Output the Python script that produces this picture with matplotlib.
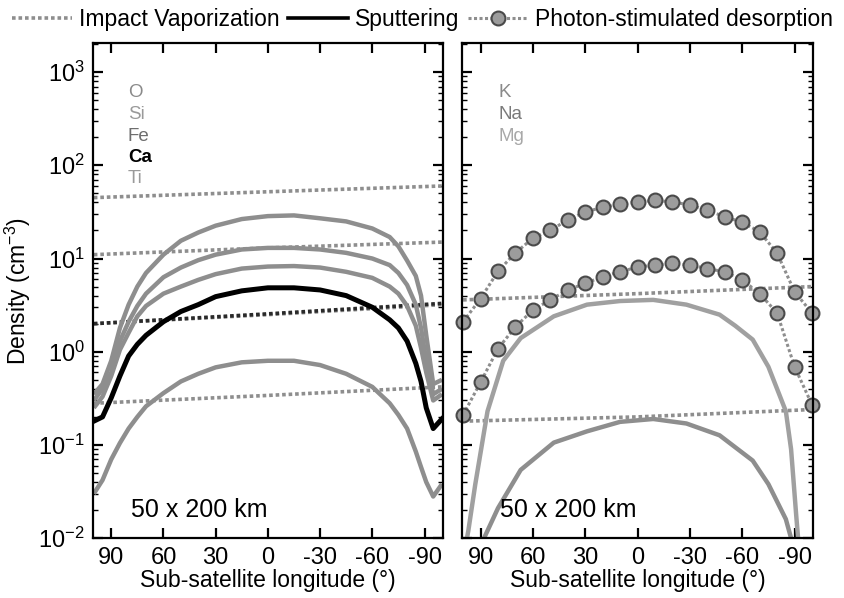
import matplotlib
matplotlib.use("Agg")
import matplotlib.pyplot as plt
from matplotlib.lines import Line2D
from matplotlib.ticker import LogLocator, NullFormatter

plt.rcParams['font.family'] = ['Liberation Sans', 'DejaVu Sans']
plt.rcParams['mathtext.fontset'] = 'custom'
plt.rcParams['mathtext.rm'] = 'Liberation Sans'
plt.rcParams['mathtext.it'] = 'Liberation Sans'
plt.rcParams['axes.unicode_minus'] = False

# ---- data ----
xticks = [90, 60, 30, 0, -30, -60, -90]
xtick_labels = ['90', '60', '30', '0', '-30', '-60', '-90']

# left panel: impact vaporization (O, Si, Fe, Ca, Ti)
iv_x = [100, 0, -100]
iv_O = [45, 52, 60]
iv_Si = [11, 13, 15]
iv_Fe = [2.0, 2.5, 3.2]
iv_Ca = [2.0, 2.55, 3.3]
iv_Ti = [0.28, 0.34, 0.42]

# left panel: sputtering
sp_x = [100, 95, 90, 85, 80, 75, 70, 60, 50, 40, 30, 15, 0, -15, -30, -45,
        -60, -70, -75, -80, -85, -88, -91, -95, -100]
sp_O = [0.35, 0.45, 0.8, 1.8, 3.2, 5.0, 7.0, 11, 15.5, 19, 22.5, 26.5, 28.5,
        29, 27, 25, 21, 17, 13.5, 9.5, 6.5, 4.0, 1.5, 0.45, 0.5]
sp_Si = [0.3, 0.4, 0.6, 1.3, 2.1, 3.1, 4.2, 6.3, 8.0, 9.6, 11, 12.5, 13,
         13, 12.5, 11.5, 10, 8.5, 7, 5.2, 3.2, 1.8, 0.8, 0.35, 0.4]
sp_Fe = [0.25, 0.33, 0.55, 1.05, 1.6, 2.4, 3.1, 4.2, 5.0, 5.9, 6.8, 7.8, 8.2,
         8.3, 8.0, 7.2, 6.2, 5.0, 4.2, 3.1, 1.9, 1.1, 0.6, 0.3, 0.35]
sp_Ca = [0.18, 0.2, 0.32, 0.55, 0.9, 1.2, 1.5, 2.1, 2.7, 3.2, 3.9, 4.5, 4.85,
         4.85, 4.6, 4.0, 3.0, 2.2, 1.8, 1.3, 0.75, 0.48, 0.25, 0.15, 0.19]
sp_Ti = [0.03, 0.042, 0.07, 0.105, 0.15, 0.2, 0.26, 0.36, 0.48, 0.58, 0.68,
         0.77, 0.8, 0.8, 0.72, 0.58, 0.42, 0.28, 0.21, 0.15, 0.085, 0.058,
         0.04, 0.028, 0.038]

# right panel: photon-stimulated desorption (markers every 10 deg)
psd_x = [100, 90, 80, 70, 60, 50, 40, 30, 20, 10, 0, -10, -20, -30, -40,
         -50, -60, -70, -80, -90, -100]
psd_hi = [2.1, 3.7, 7.3, 11.5, 16.5, 20, 26, 31.5, 35.5, 38, 40.5, 42, 40.5,
          37.5, 33, 28, 24.5, 19.3, 11.4, 4.4, 2.6]
psd_lo = [0.21, 0.47, 1.08, 1.85, 2.8, 3.6, 4.6, 5.4, 6.4, 7.2, 8.1, 8.5,
          8.85, 8.5, 7.8, 7.2, 5.9, 4.2, 2.6, 0.69, 0.27]

# right panel: impact vaporization
iv2_x = [100, 0, -100]
iv2_hi = [3.6, 4.2, 5.0]
iv2_lo = [0.18, 0.2, 0.24]

# right panel: sputtering
sp2_hi_x = [100, 97, 93, 86, 77, 67, 48, 29, 10, -9, -28, -47, -56, -66,
            -75, -85, -88, -91, -93]
sp2_hi = [0.006, 0.012, 0.038, 0.23, 0.8, 1.4, 2.4, 3.2, 3.5, 3.6, 3.2,
          2.5, 1.9, 1.35, 0.69, 0.23, 0.09, 0.017, 0.006]
sp2_lo_x = [91, 88, 80, 67, 48, 29, 10, -9, -28, -47, -66, -75, -85, -88,
            -90]
sp2_lo = [0.006, 0.01, 0.021, 0.054, 0.106, 0.14, 0.177, 0.19, 0.17, 0.127,
          0.068, 0.038, 0.016, 0.01, 0.006]

left_labels = ['O', 'Si', 'Fe', 'Ca', 'Ti']
left_label_colors = ['#8a8a8a', '#9a9a9a', '#6e6e6e', 'black', '#9a9a9a']
right_labels = ['K', 'Na', 'Mg']
right_label_colors = ['#8a8a8a', '#7a7a7a', '#a8a8a8']

GRAY = '#8e8e8e'
FS = 17

fig = plt.figure(figsize=(8.45, 5.98), dpi=100)
ax1 = fig.add_axes([0.110, 0.100, 0.414, 0.828])
ax2 = fig.add_axes([0.547, 0.100, 0.415, 0.828])

iv_kw = dict(linestyle=(0, (1, 0.8)), linewidth=2.6)
sp_kw = dict(linewidth=3.2, solid_capstyle='butt')

# left panel
for vals in [iv_O, iv_Si, iv_Fe, iv_Ti]:
    ax1.plot(iv_x, vals, color=GRAY, **iv_kw)
ax1.plot(iv_x, iv_Ca, color='#2a2a2a', **iv_kw)
for vals in [sp_O, sp_Si, sp_Fe, sp_Ti]:
    ax1.plot(sp_x, vals, color=GRAY, **sp_kw)
ax1.plot(sp_x, sp_Ca, color='black', linewidth=3.6)

# right panel
ax2.plot(iv2_x, iv2_hi, color=GRAY, **iv_kw)
ax2.plot(iv2_x, iv2_lo, color=GRAY, **iv_kw)
ax2.plot(sp2_hi_x, sp2_hi, color='#a0a0a0', **sp_kw)
ax2.plot(sp2_lo_x, sp2_lo, color=GRAY, **sp_kw)
psd_kw = dict(color=GRAY, linestyle=(0, (1, 0.8)), linewidth=2.2, marker='o',
              markersize=10, markerfacecolor='#9c9c9c',
              markeredgecolor='#4a4a4a', markeredgewidth=1.5)
ax2.plot(psd_x, psd_hi, clip_on=False, **psd_kw)
ax2.plot(psd_x, psd_lo, clip_on=False, **psd_kw)

for ax in (ax1, ax2):
    ax.set_yscale('log')
    ax.set_ylim(1e-2, 2047)
    ax.set_xlim(100.5, -100.5)
    ax.set_xticks(xticks)
    ax.set_xticklabels(xtick_labels)
    ax.yaxis.set_major_locator(LogLocator(base=10, numticks=10))
    ax.yaxis.set_minor_locator(LogLocator(base=10, subs=range(2, 10), numticks=20))
    ax.yaxis.set_minor_formatter(NullFormatter())
    ax.tick_params(which='both', direction='in', top=True, right=True,
                   labelsize=FS)
    ax.tick_params(which='major', length=7, width=1.6, pad=6)
    ax.tick_params(which='minor', length=3.5, width=1.0)
    for s in ax.spines.values():
        s.set_linewidth(1.6)
    ax.set_xlabel('Sub-satellite longitude (°)', fontsize=16.5, labelpad=0)
    ax.text(0.108, 0.057, '50 x 200 km', transform=ax.transAxes,
            fontsize=18, va='center', ha='left')

ax2.tick_params(labelleft=False)
ax1.set_ylabel('Density (cm$^{-3}$)', fontsize=16.5, labelpad=4)

ys = [0.901, 0.855, 0.812, 0.768, 0.727]
for lab, col, y in zip(left_labels, left_label_colors, ys):
    ax1.text(0.10, y, lab, transform=ax1.transAxes, color=col, fontsize=13.5,
             va='center', ha='left',
             fontweight='bold' if lab == 'Ca' else 'normal')
for lab, col, y in zip(right_labels, right_label_colors, ys[:3]):
    ax2.text(0.103, y, lab, transform=ax2.transAxes, color=col, fontsize=13.5,
             va='center', ha='left')

handles = [
    Line2D([], [], color=GRAY, **iv_kw),
    Line2D([], [], color='black', linewidth=2.6),
    Line2D([], [], **psd_kw),
]
fig.legend(handles, ['Impact Vaporization', 'Sputtering',
                     'Photon-stimulated desorption'],
           loc='center', bbox_to_anchor=(0.5, 0.968), ncol=3, frameon=False,
           fontsize=16.5, handlelength=2.6, handletextpad=0.3,
           columnspacing=0.4, numpoints=1, borderaxespad=0)

fig.savefig('out.png', dpi=100)
